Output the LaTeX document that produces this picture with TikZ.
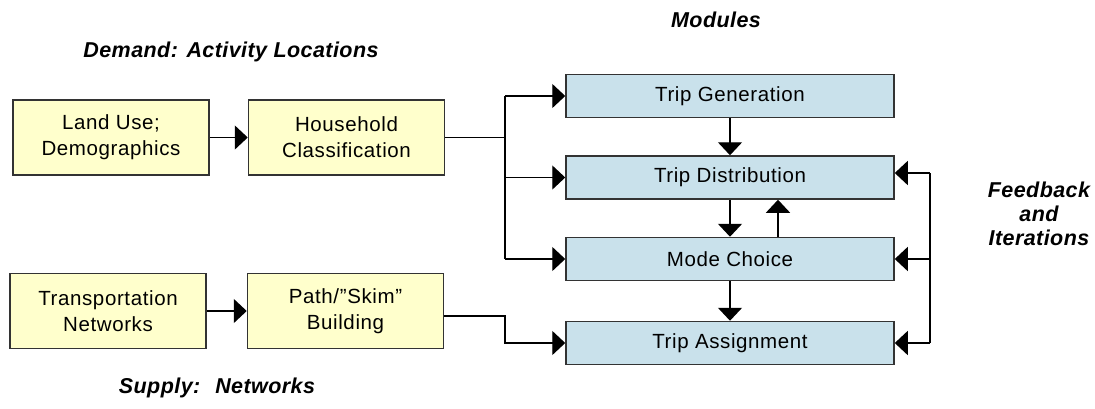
\documentclass[tikz,border=0pt]{standalone}
\usepackage{fontspec}
\setmainfont{Liberation Sans}
\newfontfamily\boxfont[LetterSpace=3]{Liberation Sans}
\newfontfamily\headfont[LetterSpace=2]{Liberation Sans}
\usetikzlibrary{arrows.meta}
\definecolor{ybox}{HTML}{FFFFCC}
\definecolor{bbox}{HTML}{C9E1EB}
\definecolor{edgegray}{HTML}{333333}
\begin{document}
\begin{tikzpicture}[x=1pt,y=-1pt,
  ybx/.style={draw=edgegray,line width=1.5pt,fill=ybox,minimum width=196pt,minimum height=75pt,inner sep=0pt,align=center,font=\boxfont\fontsize{20.5}{26}\selectfont},
  bbx/.style={draw=edgegray,line width=1.5pt,fill=bbox,minimum width=328pt,minimum height=43pt,inner sep=0pt,align=center,font=\boxfont\fontsize{20.5}{26}\selectfont},
  head/.style={align=center,inner sep=0pt,font=\headfont\bfseries\itshape\fontsize{21.5}{24}\selectfont},
  conn/.style={line width=1.4pt,black},
  arr/.style={conn,-{Triangle[length=13pt,width=24pt]}}]
\useasboundingbox[fill=white] (0,0) rectangle (1095,408);
% headings
\node[head] (hdemand) at (231,52) {Demand: Activity Locations};
\node[head] (hmod) at (716,20) {Modules};
\node[head] (hsupply) at (217,388) {Supply:~ Networks};
\node[head] (hfeed) at (1039,214) {Feedback\\and\\Iterations};
% yellow boxes
\node[ybx] (land) at (111,137.5) {Land Use;\\Demographics};
\node[ybx] (house) at (346.5,137.5) {Household\\Classification};
\node[ybx] (trans) at (108,311) {Transportation\\Networks};
\node[ybx] (path) at (345.5,311) {Path/\char"201D Skim\char"201D\\Building};
% blue boxes
\node[bbx] (gen) at (730,96) {Trip Generation};
\node[bbx] (dist) at (730,177.5) {Trip Distribution};
\node[bbx] (mode) at (730,259) {Mode Choice};
\node[bbx] (assign) at (730,343) {Trip Assignment};
% junction coordinates
\coordinate (jh) at (505,137.5);
\coordinate (jg) at (505,96);
\coordinate (jd) at (505,177.5);
\coordinate (jm) at (505,259);
\coordinate (ps) at (505,316);
\coordinate (pa) at (505,343);
\coordinate (ux) at (778,0);
\coordinate (fd) at (930,173);
\coordinate (fm) at (930,259);
\coordinate (fa) at (930,343);
% connectors
\draw[arr] (land) -- (house);
\draw[arr] (trans) -- (path);
\draw[conn] (house.east) -- (jh);
\draw[conn] (jg) -- (jm);
\draw[arr] (jg) -- (gen.west);
\draw[arr] (jd) -- (dist.west);
\draw[arr] (jm) -- (mode.west);
\draw[arr] (path.east |- ps) -- (ps) -- (pa) -- (assign.west);
\draw[arr] (gen.south) -- (dist.north);
\draw[arr] (dist.south) -- (mode.north);
\draw[arr] (mode.south) -- (assign.north);
\draw[arr] (ux |- mode.north) -- (ux |- dist.south);
\draw[conn] (fd) -- (fa);
\draw[arr] (fd) -- (dist.east |- fd);
\draw[arr] (fm) -- (mode.east);
\draw[arr] (fa) -- (assign.east);
\end{tikzpicture}
\end{document}
